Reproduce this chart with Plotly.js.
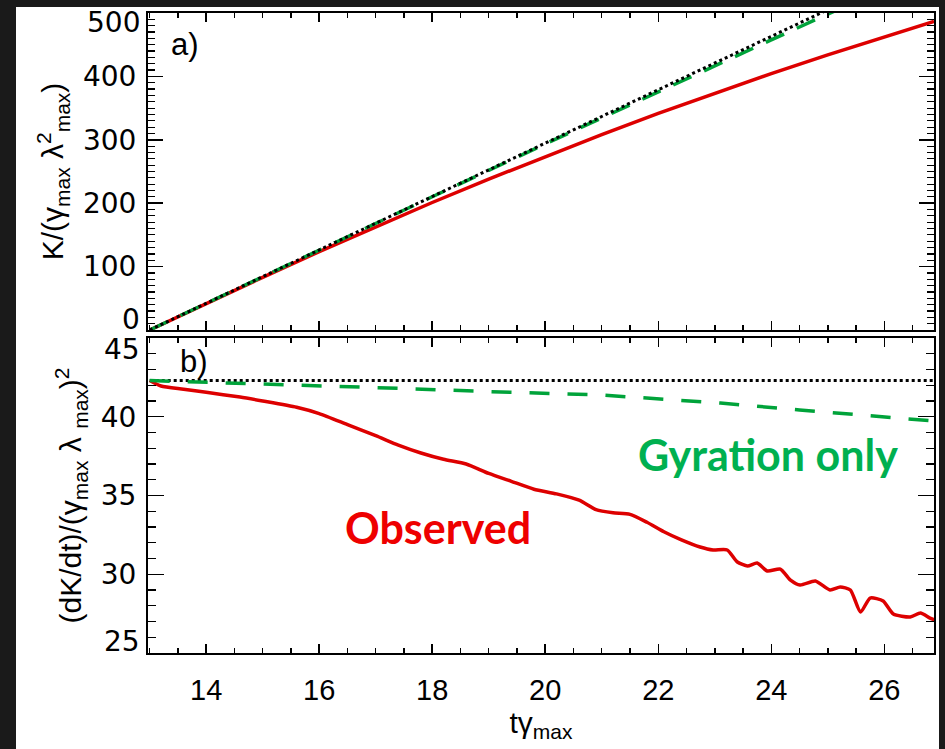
<!DOCTYPE html>
<html><head><meta charset="utf-8">
<script src="https://cdn.plot.ly/plotly-3.0.1.min.js"></script>
<style>
html,body{margin:0;padding:0;background:#1a1a1a;width:945px;height:749px;overflow:hidden}
#plot{position:absolute;left:16px;top:7px;width:923px;height:742px;background:#fff}
</style></head><body>
<div id="plot"></div>
<script>
// ---- data ----
const tK      = [13,14,15,16,17,18,19,20,21,22,23,24,25,26,26.88];
const kObs    = [0,41.8,83,123.6,163.1,201.1,238,273.7,308.2,341.6,373.7,404.4,434,462.7,486.8];
const tKgyr   = [13,14,16,18,20,21,22,23,24,25,25.5];
const kGyr    = [0,42.2,126.4,210.1,293.4,334.8,375.9,416.9,457.6,498.2,518.3];
const tKlin   = [13,26];
const kLin    = [0,547.3];

const tRate   = [13.0,13.2,13.6,14.0,14.6,15.0,15.6,16.0,16.5,17.0,17.4,17.8,18.2,18.6,19.0,19.4,19.8,20.2,20.6,20.9,21.2,21.5,21.8,22.1,22.4,22.74,22.97,23.22,23.40,23.58,23.75,23.93,24.16,24.34,24.51,24.78,25.04,25.22,25.40,25.58,25.75,25.98,26.16,26.46,26.64,26.81,26.9];
const rateObs = [42.3,41.95,41.75,41.55,41.25,41.0,40.6,40.2,39.5,38.8,38.2,37.7,37.3,37.0,36.4,35.9,35.4,35.1,34.7,34.1,33.9,33.8,33.3,32.7,32.2,31.73,31.54,31.54,30.78,30.52,30.71,30.21,30.33,29.63,29.32,29.57,29.0,29.19,29.0,27.6,28.49,28.3,27.48,27.29,27.54,27.22,27.1];
const tRateG  = [13,15,17,19,21,22.3,23.1,24.5,26,26.88];
const rateGyr = [42.3,42.1,41.85,41.6,41.38,41.06,40.87,40.43,39.98,39.73];
const tRateL  = [13,26.88];
const rateLin = [42.3,42.3];

const xTicks  = [14,16,18,20,22,24,26];
const yTopTicks = [100,200,300,400];
const yBotTicks = [30,35,40];

// ---- styles ----
const RED='#dd0000', GREEN='#00a33a', BLACK='#000';
const narrow='Liberation Sans, Arial, sans-serif';
const wide='DejaVu Sans, sans-serif';

const traces = [
  {x:tK, y:kObs, xaxis:'x', yaxis:'y', mode:'lines', line:{color:RED,width:3.5}},
  {x:tKgyr, y:kGyr, xaxis:'x', yaxis:'y', mode:'lines', line:{color:GREEN,width:3.5,dash:'20px,14px'}},
  {x:tKlin, y:kLin, xaxis:'x', yaxis:'y', mode:'lines', line:{color:BLACK,width:3,dash:'dot'}},
  {x:tRate, y:rateObs, xaxis:'x2', yaxis:'y2', mode:'lines', line:{color:RED,width:3.5,shape:'spline',smoothing:0.6}},
  {x:tRateL, y:rateLin, xaxis:'x2', yaxis:'y2', mode:'lines', line:{color:BLACK,width:3,dash:'dot'}},
  {x:tRateG, y:rateGyr, xaxis:'x2', yaxis:'y2', mode:'lines', line:{color:GREEN,width:3.5,dash:'20px,18px'}}
];

const xBase = {range:[12.97,26.88], showline:true, linecolor:'#000', linewidth:2, mirror:'ticks',
  ticks:'inside', ticklen:9, tickwidth:1.5, tickcolor:'#000', tickvals:xTicks, showgrid:false, zeroline:false,
  minor:{dtick:0.5, ticks:'inside', ticklen:5, tickwidth:1.5, tickcolor:'#000', showgrid:false}};

const layout = {
  width:923, height:742, showlegend:false,
  paper_bgcolor:'#fff', plot_bgcolor:'#fff',
  margin:{l:132, r:5, t:6, b:96},
  xaxis: Object.assign({}, xBase, {anchor:'y', showticklabels:false}),
  xaxis2: Object.assign({}, xBase, {anchor:'y2', showticklabels:true, ticklabelstandoff:10,
     tickfont:{family:narrow, size:29, color:'#000'},
     title:{text:'tγ<sub>max</sub>', font:{family:narrow, size:30, color:'#000'}, standoff:2}}),
  yaxis: {domain:[0.5047,1], range:[0,500], showline:true, linecolor:'#000', linewidth:2, mirror:'ticks',
     ticks:'inside', ticklen:15, tickwidth:1.5, tickcolor:'#000', tickvals:yTopTicks,
     tickfont:{family:wide, size:28, color:'#000'}, ticklabelstandoff:4,
     showgrid:false, zeroline:false,
     minor:{dtick:10, ticks:'inside', ticklen:7, tickwidth:1.2, tickcolor:'#000', showgrid:false},
     title:{text:'K/(γ<sub>max</sub> λ<sup>2</sup><sub>max</sub>)', font:{family:narrow, size:30, color:'#000'}, standoff:10}},
  yaxis2: {domain:[0,0.4922], range:[25,45], showline:true, linecolor:'#000', linewidth:2, mirror:'ticks',
     ticks:'inside', ticklen:16, tickwidth:1.5, tickcolor:'#000', tickvals:yBotTicks,
     tickfont:{family:wide, size:28, color:'#000'}, ticklabelstandoff:4,
     showgrid:false, zeroline:false,
     minor:{dtick:1, ticks:'inside', ticklen:8, tickwidth:1.2, tickcolor:'#000', showgrid:false},
     title:{text:'(dK/dt)/(γ<sub>max</sub> λ <sub>max</sub>)<sup>2</sup>', font:{family:narrow, size:30, color:'#000'}, standoff:10}},
  annotations:[
    {xref:'paper', yref:'y', x:0, y:0, text:'0', showarrow:false, xanchor:'right', yanchor:'middle', xshift:-6, yshift:10, font:{family:wide,size:28,color:'#000'}},
    {xref:'paper', yref:'y', x:0, y:500, text:'500', showarrow:false, xanchor:'right', yanchor:'middle', xshift:-6, yshift:-9, font:{family:wide,size:28,color:'#000'}},
    {xref:'paper', yref:'y2', x:0, y:45, text:'45', showarrow:false, xanchor:'right', yanchor:'middle', xshift:-6, yshift:-12, font:{family:wide,size:28,color:'#000'}},
    {xref:'paper', yref:'y2', x:0, y:25, text:'25', showarrow:false, xanchor:'right', yanchor:'middle', xshift:-6, yshift:12, font:{family:wide,size:28,color:'#000'}},
    {xref:'x', yref:'y', x:13.35, y:450, text:'a)', showarrow:false, xanchor:'left', yanchor:'middle', font:{family:narrow,size:31,color:'#000'}},
    {xref:'x2', yref:'y2', x:13.5, y:43.5, text:'b)', showarrow:false, xanchor:'left', yanchor:'middle', font:{family:narrow,size:31,color:'#000'}},
    {xref:'x2', yref:'y2', x:23.95, y:37.6, text:'<b>Gyration only</b>', showarrow:false, xanchor:'center', yanchor:'middle', font:{family:'Lato, sans-serif',size:43,color:'#00b050'}},
    {xref:'x2', yref:'y2', x:18.1, y:32.95, text:'<b>Observed</b>', showarrow:false, xanchor:'center', yanchor:'middle', font:{family:'Lato, sans-serif',size:43,color:'#ee0000'}}
  ]
};

Plotly.newPlot('plot', traces, layout, {staticPlot:true, displayModeBar:false});
</script>
</body></html>
